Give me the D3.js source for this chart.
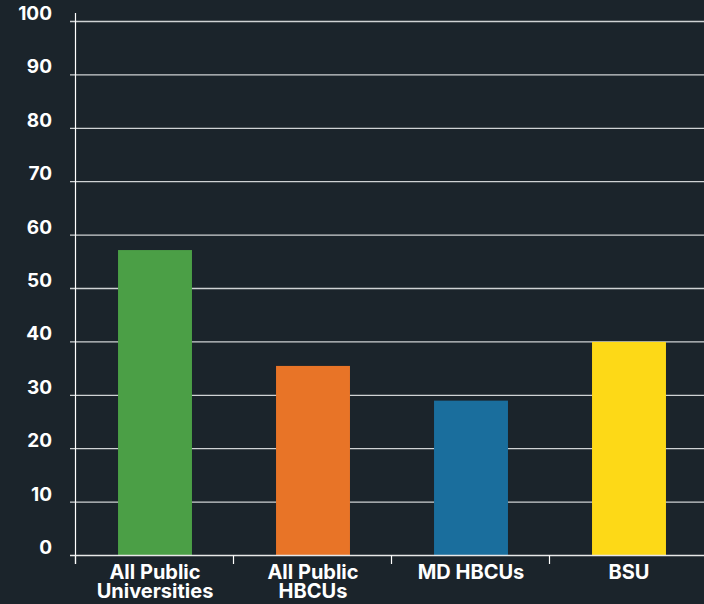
<!DOCTYPE html>
<html><head><meta charset="utf-8">
<script src="https://cdn.jsdelivr.net/npm/d3@7"></script>
<style>
html,body{margin:0;padding:0;background:#1b242b;}
svg{display:block;}
text{font-family:Inter,"Liberation Sans",Arial,sans-serif;font-weight:bold;fill:#ffffff;}
</style></head>
<body>
<script>
const categories = [["All Public","Universities"],["All Public","HBCUs"],["MD HBCUs"],["BSU"]];
const values = [57.2, 35.5, 29.0, 40.0];
const colors = ["#4b9f46","#e87427","#1a6e9d","#fdd917"];
const yTicks = [0,10,20,30,40,50,60,70,80,90,100];

const W = 704, H = 604;
const svg = d3.select("body").append("svg").attr("width", W).attr("height", H);

const x = d3.scaleBand().domain(d3.range(categories.length)).range([76, 708])
  .paddingInner(0.532).paddingOuter(0.266);
const xTicks = d3.scaleBand().domain(d3.range(categories.length)).range([76, 708]).padding(0);
const y = d3.scaleLinear().domain([0, 100]).range([555.5, 21.5]);

// gridlines
svg.append("g").selectAll("line").data(yTicks.filter(d => d > 0)).join("line")
  .attr("x1", 70).attr("x2", W).attr("y1", d => y(d)).attr("y2", d => y(d))
  .attr("stroke", "#cfd2d4").attr("stroke-width", 1.3);

// y labels
svg.append("g").selectAll("text").data(yTicks).join("text")
  .attr("x", 52).attr("y", d => y(d) - 1.5).attr("text-anchor", "end")
  .attr("font-size", 19).text(d => d);

// bars
svg.append("g").selectAll("rect").data(values).join("rect")
  .attr("x", (d, i) => x(i)).attr("width", x.bandwidth())
  .attr("y", d => y(d)).attr("height", d => y(0) - y(d))
  .attr("fill", (d, i) => colors[i]);

// y axis line
svg.append("line").attr("x1", 75.5).attr("x2", 75.5).attr("y1", 13).attr("y2", 564)
  .attr("stroke", "#ffffff").attr("stroke-width", 1.2);
// x axis line
svg.append("line").attr("x1", 70).attr("x2", W).attr("y1", y(0)).attr("y2", y(0))
  .attr("stroke", "#e8e8e8").attr("stroke-width", 1.5);
// x ticks
svg.append("g").selectAll("line").data(d3.range(categories.length)).join("line")
  .attr("x1", i => xTicks(i) - 0.5).attr("x2", i => xTicks(i) - 0.5)
  .attr("y1", y(0)).attr("y2", 564).attr("stroke", "#ffffff").attr("stroke-width", 1.2);

// category labels
const lab = svg.append("g").selectAll("text").data(categories).join("text")
  .attr("text-anchor", "middle").attr("font-size", 20);
lab.each(function(d, i) {
  const t = d3.select(this);
  d.forEach((s, k) => {
    t.append("tspan").attr("x", x(i) + x.bandwidth() / 2).attr("y", 578.5 + k * 19.5).text(s);
  });
});
</script>
</body></html>
